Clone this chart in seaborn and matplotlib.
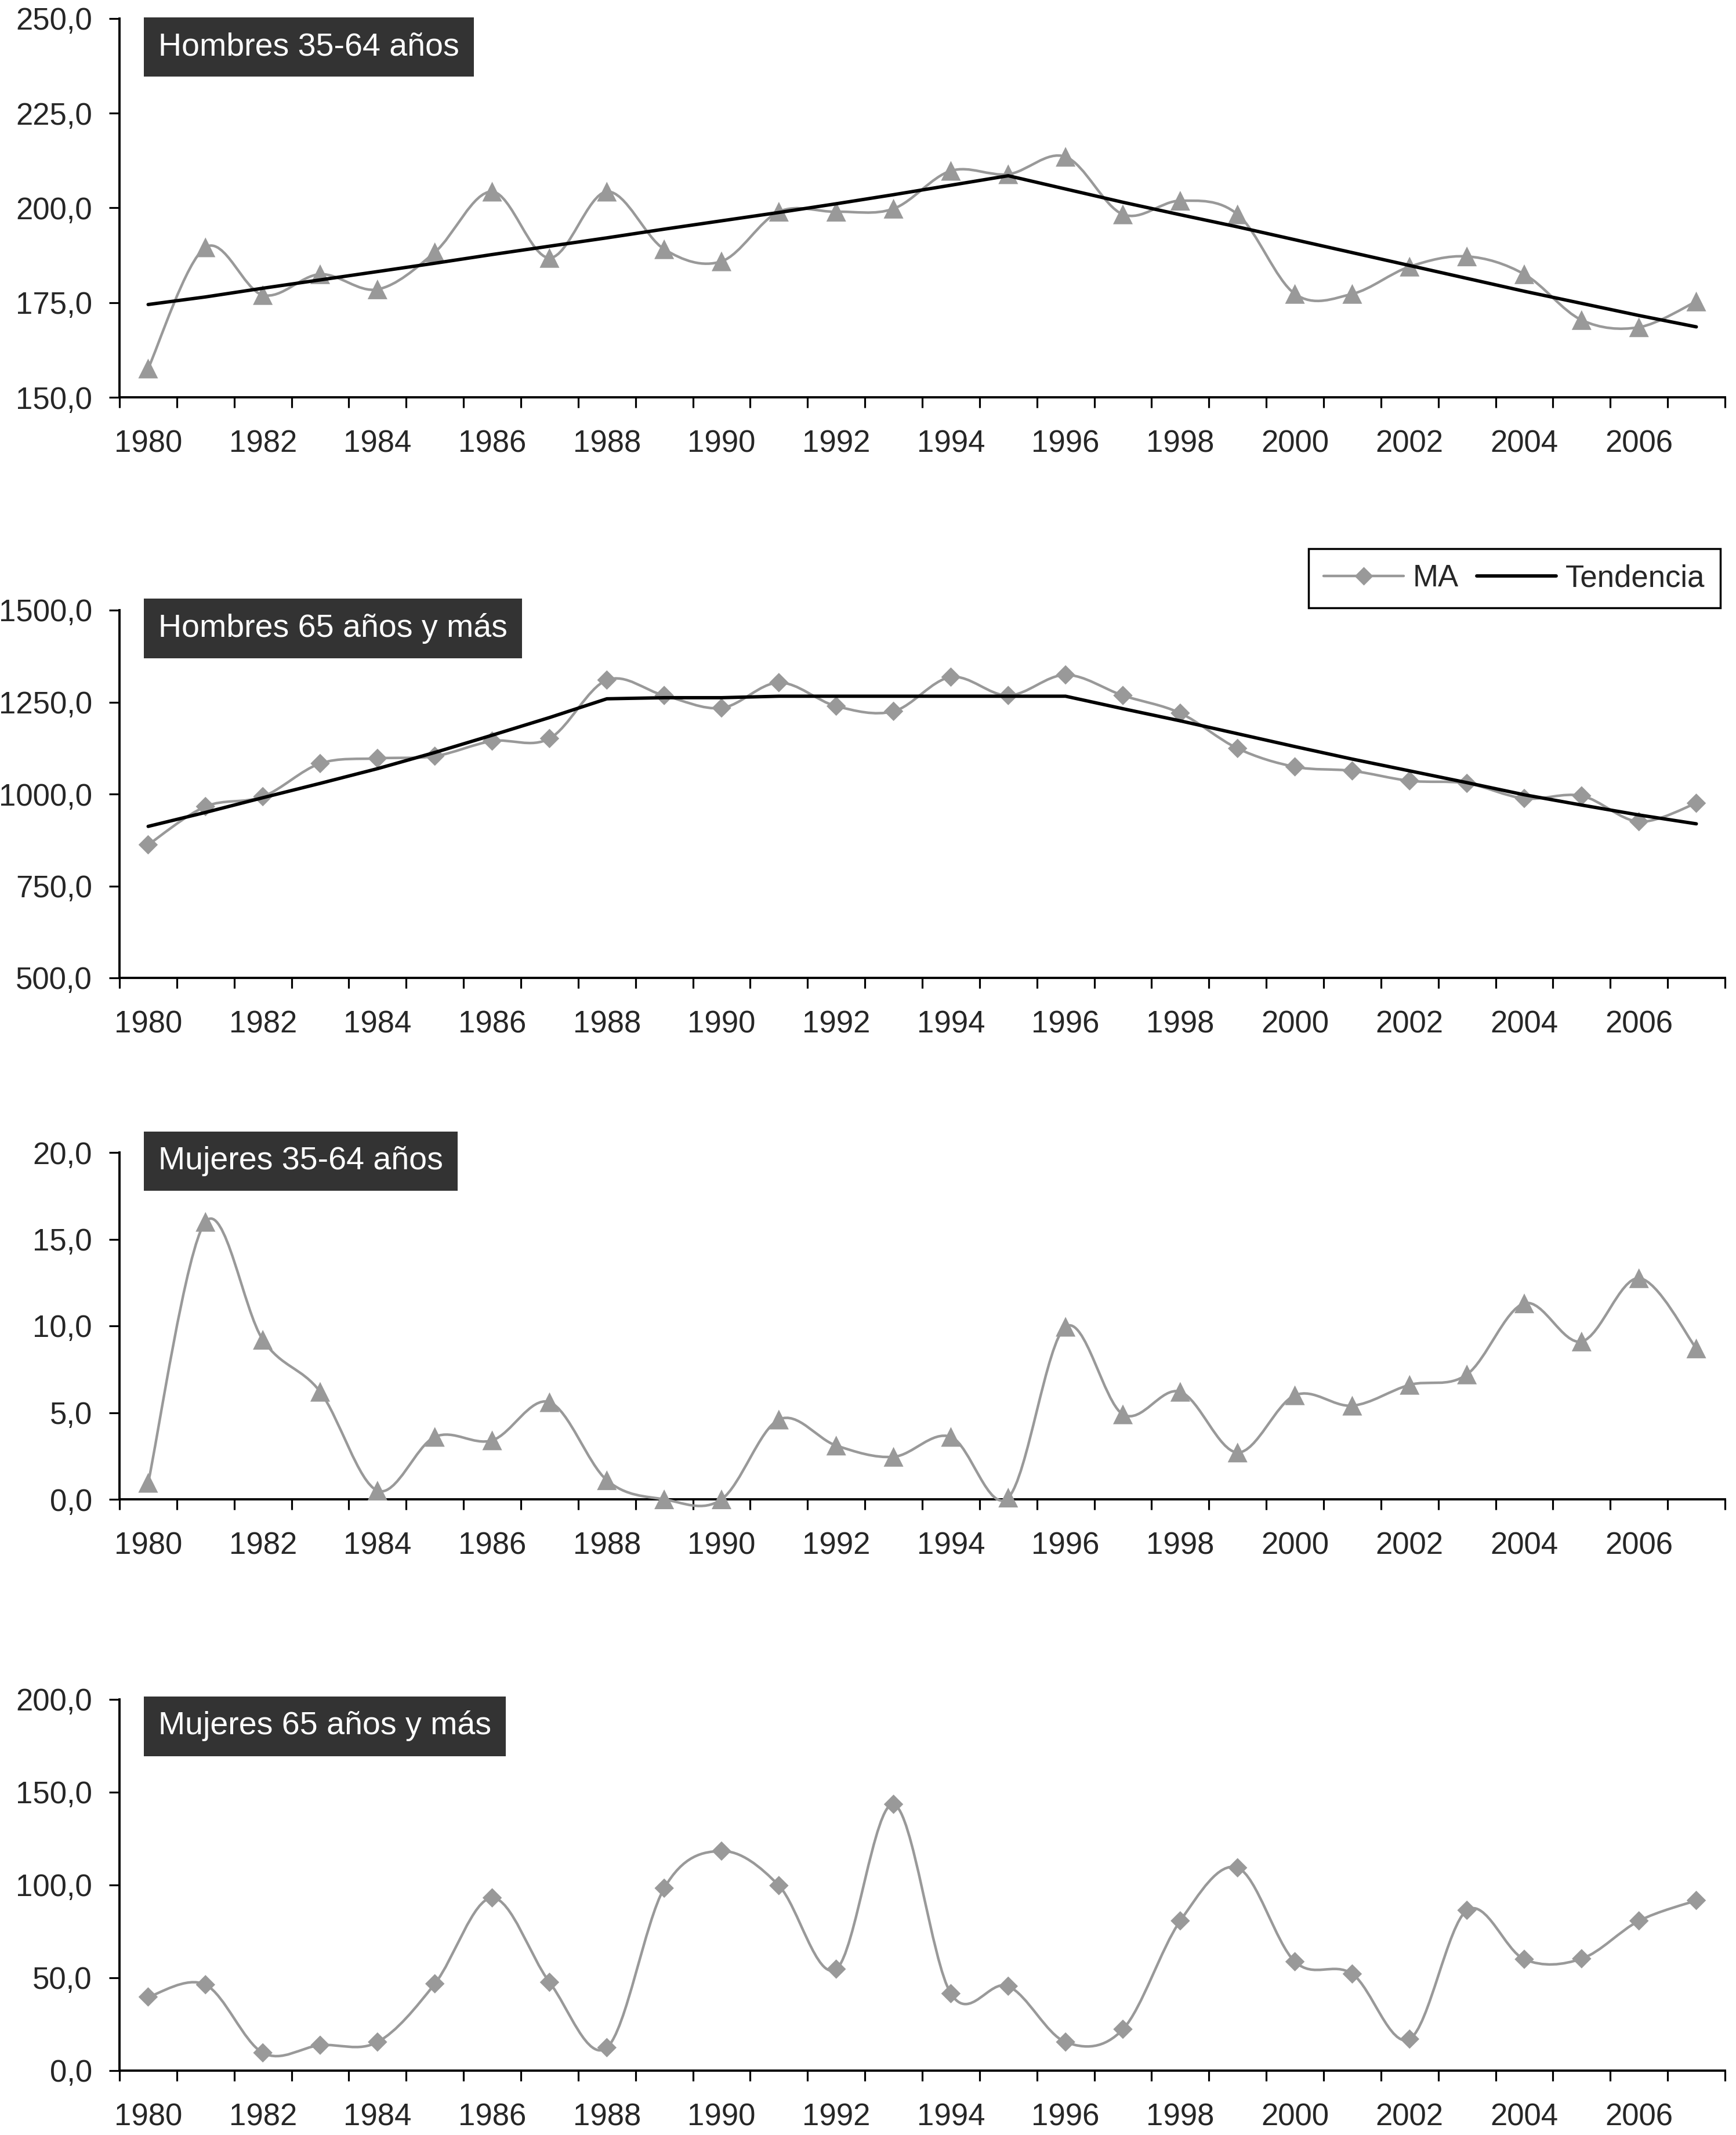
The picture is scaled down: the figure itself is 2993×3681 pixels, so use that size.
import numpy as np
import seaborn as sns
import matplotlib.pyplot as plt
from matplotlib.path import Path
from matplotlib.patches import PathPatch
from matplotlib.lines import Line2D
from matplotlib.ticker import FuncFormatter

# data
years = list(range(1980, 2008))

h3564_ma = [157.6, 189.6, 177.0, 182.5, 178.5, 188.3, 204.3, 186.8, 204.3, 189.1,
            185.9, 199.0, 199.0, 199.8, 209.8, 208.9, 213.5, 198.3, 201.9, 198.3,
            177.3, 177.3, 184.5, 187.2, 182.5, 170.4, 168.5, 175.3]
h3564_trend = [174.5, 176.5, 178.8, 181.0, 183.2, 185.4, 187.7, 189.9, 192.1, 194.4,
               196.6, 198.8, 201.1, 203.5, 206.0, 208.5, 205.0, 201.5, 198.2, 195.0,
               191.6, 188.2, 184.8, 181.4, 178.0, 174.8, 171.6, 168.6]

h65_ma = [862, 966, 993, 1083, 1097, 1103, 1144, 1151, 1310, 1268,
          1234, 1303, 1239, 1225, 1318, 1268, 1324, 1268, 1220, 1124,
          1074, 1063, 1036, 1029, 988, 995, 925, 975]
h65_trend = [912, 950, 990, 1029, 1069, 1113, 1160, 1208, 1259, 1262,
             1262, 1266, 1266, 1266, 1266, 1266, 1266, 1232, 1199, 1164,
             1129, 1095, 1063, 1031, 998, 970, 943, 919]

m3564_ma = [0.95, 16.0, 9.2, 6.2, 0.5, 3.6, 3.4, 5.6, 1.1, 0.0,
            0.0, 4.6, 3.1, 2.45, 3.6, 0.1, 9.95, 4.9, 6.2, 2.7,
            6.0, 5.4, 6.6, 7.2, 11.3, 9.1, 12.75, 8.7]

m65_ma = [39.7, 46.3, 9.6, 13.7, 15.4, 46.8, 93.1, 47.6, 12.4, 98.3,
          118.3, 99.7, 54.7, 143.5, 41.5, 45.5, 15.4, 22.3, 80.7, 109.3,
          58.7, 52.1, 17.0, 86.4, 60.0, 60.3, 80.7, 91.7]

titles = ["Hombres 35-64 años", "Hombres 65 años y más",
          "Mujeres 35-64 años", "Mujeres 65 años y más"]
y_limits = [(150, 250), (500, 1500), (0, 20), (0, 200)]
y_steps = [25, 250, 5, 50]
legend_labels = ["MA", "Tendencia"]

GRAY = "#999999"
BOX = "#333333"
W, H = 2993, 3681

sns.set_style("ticks")
plt.rcParams['font.family'] = ['Liberation Sans', 'DejaVu Sans']


def smooth_path(x, y):
    # Excel-like smoothed line (Catmull-Rom as cubic Bezier)
    x = np.asarray(x, float)
    y = np.asarray(y, float)
    n = len(x)
    verts = [(x[0], y[0])]
    codes = [Path.MOVETO]
    for i in range(n - 1):
        i0 = max(i - 1, 0)
        i3 = min(i + 2, n - 1)
        c1 = (x[i] + (x[i + 1] - x[i0]) / 6, y[i] + (y[i + 1] - y[i0]) / 6)
        c2 = (x[i + 1] - (x[i3] - x[i]) / 6, y[i + 1] - (y[i3] - y[i]) / 6)
        verts += [c1, c2, (x[i + 1], y[i + 1])]
        codes += [Path.CURVE4] * 3
    return Path(verts, codes)


fig = plt.figure(figsize=(W / 100, H / 100), dpi=100)

# axes boxes in pixels: top, bottom
panels_px = [(32, 685), (1052, 1686), (1987, 2585), (2930, 3570)]
box_centers = [81, 1083, 2002, 2976]
left_px, right_px = 206, 2974

series = [
    (h3564_ma, h3564_trend, "^", 600),
    (h65_ma, h65_trend, "D", 290),
    (m3564_ma, None, "^", 600),
    (m65_ma, None, "D", 290),
]

comma = FuncFormatter(lambda v, p: f"{v:.1f}".replace(".", ","))

for k, ((top, bot), (ma, trend, mk, ms)) in enumerate(zip(panels_px, series)):
    ax = fig.add_axes([left_px / W, 1 - bot / H, (right_px - left_px) / W, (bot - top) / H])
    ax.add_patch(PathPatch(smooth_path(years, ma), fill=False, edgecolor=GRAY,
                           lw=3.2, zorder=3, clip_on=False))
    sns.scatterplot(x=years, y=ma, marker=mk, s=ms, color=GRAY, edgecolor="none",
                    ax=ax, zorder=4, clip_on=False, legend=False)
    if trend is not None:
        sns.lineplot(x=years, y=trend, color="black", lw=4.2, ax=ax, zorder=5,
                     errorbar=None)

    lo, hi = y_limits[k]
    ax.set_xlim(1979.5, 2007.5)
    ax.set_ylim(lo, hi)
    ax.set_yticks(np.arange(lo, hi + y_steps[k] / 2, y_steps[k]))
    ax.yaxis.set_major_formatter(comma)
    ax.set_xticks(range(1980, 2007, 2))
    ax.set_xticklabels([str(y) for y in range(1980, 2007, 2)])
    ax.set_xticks(np.arange(1979.5, 2008, 1), minor=True)
    ax.tick_params(axis="x", which="major", length=0, pad=40, labelsize=38)
    ax.tick_params(axis="x", which="minor", length=13, width=2.3, color="black")
    ax.tick_params(axis="y", which="major", length=13, width=2.3, pad=21,
                   labelsize=38, color="black")
    ax.set_xlabel("")
    ax.set_ylabel("")
    for side in ["top", "right"]:
        ax.spines[side].set_visible(False)
    for side in ["left", "bottom"]:
        ax.spines[side].set_linewidth(2.8)
        ax.spines[side].set_color("black")

    fig.text((248 + 25) / W, 1 - box_centers[k] / H, titles[k], fontsize=40,
             color="white", ha="left", va="center",
             bbox=dict(boxstyle="square,pad=0.45", fc=BOX, ec="none"))

handles = [Line2D([], [], color=GRAY, lw=3.2, marker="D", markersize=16.5,
                  markeredgecolor="none"),
           Line2D([], [], color="black", lw=4.2)]
leg = fig.legend(handles, legend_labels, loc="center",
                 bbox_to_anchor=(2611 / W, 1 - 997 / H), ncol=2, fontsize=38,
                 frameon=True, fancybox=False, edgecolor="black", framealpha=1,
                 handlelength=2.6, handletextpad=0.3, columnspacing=0.6,
                 borderpad=0.5)
leg.get_frame().set_linewidth(2.5)

fig.savefig("out.png", dpi=100)
